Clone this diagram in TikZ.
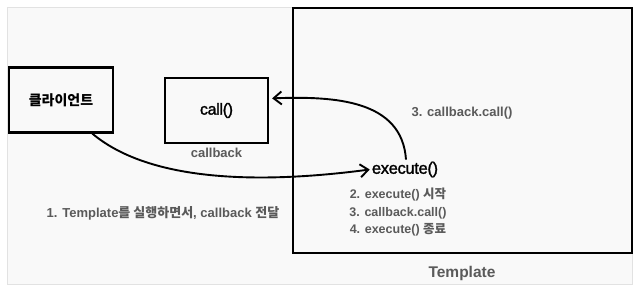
\documentclass[tikz,border=0pt]{standalone}
\usepackage{fontspec}
\setmainfont{Liberation Sans}
\newfontfamily\kr{Noto Sans CJK KR}
\newfontfamily\med[FakeBold=1.6,LetterSpace=-2]{Liberation Sans}
\usetikzlibrary{arrows.meta}
\definecolor{labelgray}{HTML}{5A5A5A}
\definecolor{framegray}{HTML}{E2E2E2}
\definecolor{bggray}{HTML}{F9F9F9}
\begin{document}
\begin{tikzpicture}[x=1pt,y=-1pt,
  box/.style={draw=black,line width=2.2pt,minimum width=#1,inner sep=0pt},
  lbl/.style={text=labelgray,font=\bfseries\fontsize{13}{15}\selectfont,inner sep=0pt},
  arr/.style={line width=1.9pt,-{Straight Barb[length=8pt,width=13pt,line width=1.9pt]}}]
\useasboundingbox (0,0) rectangle (640,297);
\fill[white] (0,0) rectangle (640,297);
\draw[framegray,fill=bggray,line width=0.8pt] (7,7) rectangle (632,284);
% template box
\node[draw=black,line width=2pt,minimum width=339pt,minimum height=245pt,inner sep=0pt] (template) at (462.5,130.5) {};
\node[lbl,font=\bfseries\fontsize{15.5}{18}\selectfont] (tlabel) at (462,273) {Template};
% client
\node[box=104pt,minimum height=65pt,font=\kr\bfseries\fontsize{14}{16}\selectfont] (client) at (61,100) {클라이언트};
% callback box
\node[box=103pt,minimum height=65pt,font=\med\fontsize{16}{18}\selectfont] (callbox) at (216.5,110.5) {call()};
\node[lbl,font=\bfseries\fontsize{13}{15}\selectfont] (cblabel) at (216.5,153) {callback};
% execute
\node[font=\med\fontsize{16.5}{18}\selectfont,inner sep=2pt] (exec) at (405,169.5) {execute()};
\node[lbl,align=center,font=\bfseries\fontsize{12.5}{17.5}\selectfont] (steps) at (398,212.5) {2. execute() {\kr 시작}\\3. callback.call()\\4. execute() {\kr 종료}};
\node[lbl] (l3) at (462,113) {3. callback.call()};
\node[lbl] (l1) at (163,213) {1. Template{\kr 를 실행하면서}, callback {\kr 전달}};
% arrows
\draw[arr] (client.-47) .. controls (150,182) and (260,184) .. (exec.west);
\draw[arr] ([xshift=1pt]exec.north) .. controls (402,100) and (335,96) .. ([xshift=3pt]callbox.13);
\end{tikzpicture}
\end{document}
